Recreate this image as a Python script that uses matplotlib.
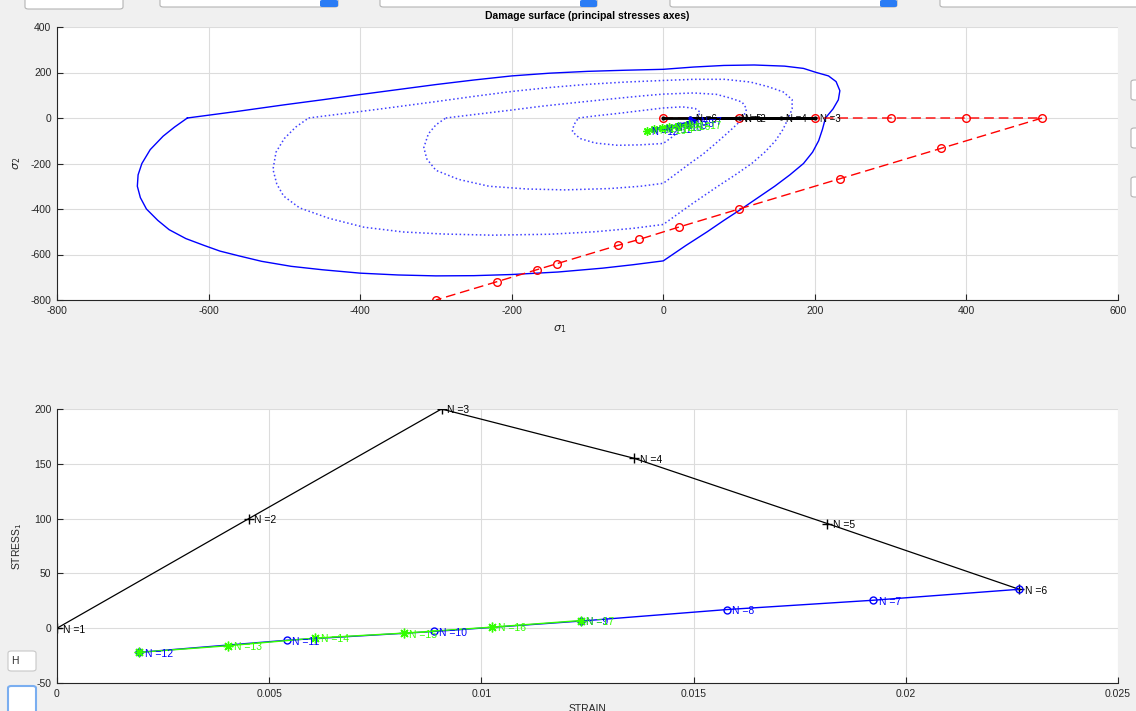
import matplotlib.pyplot as plt
from matplotlib.patches import FancyBboxPatch

plt.rcParams['font.family'] = ['Liberation Sans', 'DejaVu Sans']
plt.rcParams['axes.unicode_minus'] = False

# ---- surface d'endommagement (contraintes principales) ----
env_s1 = [-628, -560, -500, -450, -400, -350, -300, -250, -200, -150, -100, -50, 0,
          40, 80, 120, 160, 185, 201, 218, 228, 233, 231, 224, 214,
          210, 205, 197, 185, 167, 147, 125, 103, 80, 58, 30, 0,
          -40, -80, -139, -200, -250, -300, -350, -400, -450, -491, -530, -560, -585,
          -606, -630, -652, -667, -682, -690, -694, -693, -688, -677, -660, -645, -628]
env_s2 = [0, 30, 58, 80, 103, 125, 147, 167, 185, 197, 205, 210, 214,
          224, 231, 233, 228, 218, 201, 185, 160, 120, 80, 40, 0,
          -50, -100, -150, -200, -250, -300, -350, -400, -450, -500, -560, -628,
          -645, -660, -677, -688, -693, -694, -690, -682, -667, -652, -630, -606, -585,
          -560, -530, -491, -450, -400, -350, -300, -250, -200, -139, -80, -40, 0]

# contours en pointillés
d1_s1 = [-468, -420, -375, -300, -250, -199, -150, -100, -50, 0,
         40, 81, 115, 138, 158, 170, 170, 165,
         158, 148, 134, 117, 95, 72, 39, 20, 0,
         -40, -90, -150, -226, -290, -343, -395, -441, -480, -501, -510, -515, -511, -500, -485, -468]
d1_s2 = [0, 20, 39, 72, 95, 117, 134, 148, 158, 165,
         170, 170, 158, 138, 115, 81, 40, 0,
         -50, -100, -150, -199, -250, -300, -375, -420, -468,
         -485, -500, -511, -515, -510, -501, -480, -441, -395, -343, -290, -226, -150, -90, -40, 0]
d2_s1 = [-287, -245, -200, -160, -115, -80, -50, -25, 0, 40, 70, 88, 104, 110, 105,
         98, 90, 80, 68, 52, 35, 17, 0,
         -30, -70, -130, -180, -230, -270, -300, -312, -316, -310, -300, -287]
d2_s2 = [0, 17, 35, 52, 68, 80, 90, 98, 105, 110, 104, 88, 70, 40, 0,
         -25, -50, -80, -115, -160, -200, -245, -287,
         -300, -310, -316, -312, -300, -270, -230, -180, -130, -70, -30, 0]
d3_s1 = [-112, -85, -60, -30, 0, 25, 42, 49, 44, 32, 20, 11, 0,
         -30, -60, -90, -110, -120, -118, -112]
d3_s2 = [0, 11, 20, 32, 44, 49, 42, 25, 0, -30, -60, -85, -112,
         -118, -120, -110, -90, -60, -30, 0]

# chemin de chargement (rouge)
red_s1 = [0, 100, 200, 300, 400, 500, 367, 233, 100, 21, -32, -60, -140, -167, -220, -300]
red_s2 = [0, 0, 0, 0, 0, 0, -133, -267, -400, -479, -534, -560, -640, -667, -720, -800]

# points N dans le plan des contraintes principales
n_k = [1, 2, 3, 4, 5, 6]
sk_1 = [0, 100, 200, 155, 95.5, 35.5]
sk_2 = [0, 0, 0, 0, 0, 0]
n_b = [6, 7, 8, 9, 10, 11, 12]
sb_1 = [35.5, 42, 32, 22, 10, -4, -22]
sb_2 = [0, -12, -20, -28, -37, -45, -55]
n_g = [12, 13, 14, 15, 16, 17]
sg_1 = [-22, -12, -2, 8, 20, 34]
sg_2 = [-55, -50, -45, -40, -33, -27]

# ---- courbe contrainte / deformation ----
strain_k = [0, 0.00452, 0.00906, 0.0136, 0.01815, 0.02267]
stress_k = [0, 100, 200, 155, 95.5, 35.5]
strain_b = [0.02267, 0.01923, 0.01578, 0.01234, 0.00888, 0.00541, 0.00194]
stress_b = [35.5, 25.5, 17, 6.5, -3, -11, -22]
strain_g = [0.00194, 0.00403, 0.00609, 0.00817, 0.01026, 0.01234]
stress_g = [-22, -16, -9, -4.5, 1, 7]

xt1 = [-800, -600, -400, -200, 0, 200, 400, 600]
yt1 = [-800, -600, -400, -200, 0, 200, 400]
xt2 = [0, 0.005, 0.01, 0.015, 0.02, 0.025]
xt2_lab = ['0', '0.005', '0.01', '0.015', '0.02', '0.025']
yt2 = [-50, 0, 50, 100, 150, 200]

W, H = 1136, 711
GREEN = (0.2, 1, 0)
AST = (8, 2, 0)  # asterisque facon MATLAB
fig = plt.figure(figsize=(W / 100, H / 100), dpi=100, facecolor='#f0f0f0')


def box(l, t, r, b):
    return [l / W, 1 - b / H, (r - l) / W, (b - t) / H]


def style(ax):
    for s in ['top', 'right']:
        ax.spines[s].set_visible(False)
    for s in ['left', 'bottom']:
        ax.spines[s].set_color('#262626')
        ax.spines[s].set_linewidth(0.8)
    ax.tick_params(direction='in', length=4, width=0.8, colors='#262626',
                   labelsize=7.5, pad=4)
    ax.grid(True, color='#dcdcdc', lw=0.8)
    ax.set_axisbelow(True)


def labels(ax, lst, xs, ys, c, fs):
    for n, x, y in zip(lst, xs, ys):
        ax.annotate('N =%d' % n, (x, y), xytext=(4, -1), textcoords='offset points',
                    fontsize=fs, color=c, va='center')


ax1 = fig.add_axes(box(57, 27, 1118, 300))
style(ax1)
ax1.plot(env_s1, env_s2, color='blue', lw=1)
for xs, ys in [(d1_s1, d1_s2), (d2_s1, d2_s2), (d3_s1, d3_s2)]:
    ax1.plot(xs, ys, color=(0.25, 0.25, 1), ls=':', lw=1.1)
ax1.plot(red_s1, red_s2, color='red', ls='--', dashes=(7, 3.5), lw=1,
         marker='o', mfc='none', ms=5.5)
ax1.plot(sk_1, sk_2, color='black', lw=2, marker='.', ms=4)
ax1.plot(sb_1, sb_2, color='blue', lw=1.5, marker='.', ms=4)
ax1.plot(sg_1, sg_2, color=GREEN, lw=1.5, marker=AST, ms=6)
labels(ax1, n_k[1:], sk_1[1:], sk_2[1:], 'black', 7)
labels(ax1, n_b[1:], sb_1[1:], sb_2[1:], 'blue', 7)
labels(ax1, n_g[1:], sg_1[1:], sg_2[1:], GREEN, 7)
ax1.set_xlim(-800, 600)
ax1.set_ylim(-800, 400)
ax1.set_xticks(xt1)
ax1.set_yticks(yt1)
ax1.set_xlabel(r'$\sigma_1$', fontsize=8, color='#262626')
ax1.xaxis.set_label_coords(0.474, -0.085)
ax1.set_ylabel(r'$\sigma_2$', fontsize=8, color='#262626')
ax1.yaxis.set_label_coords(-0.032, 0.5)

ax2 = fig.add_axes(box(57, 409, 1118, 683))
style(ax2)
ax2.plot(strain_k, stress_k, color='black', lw=0.9, marker='+', ms=7)
ax2.plot(strain_b, stress_b, color='blue', lw=1, marker='o', mfc='none', ms=5)
ax2.plot(strain_g, stress_g, color=GREEN, lw=1, marker=AST, ms=7)
labels(ax2, n_k, strain_k, stress_k, 'black', 7.5)
labels(ax2, n_b[1:], strain_b[1:], stress_b[1:], 'blue', 7.5)
labels(ax2, n_g[1:], strain_g[1:], stress_g[1:], GREEN, 7.5)
ax2.set_xlim(0, 0.025)
ax2.set_ylim(-50, 200)
ax2.set_xticks(xt2)
ax2.set_xticklabels(xt2_lab)
ax2.set_yticks(yt2)
ax2.set_xlabel('STRAIN', fontsize=7.5, color='#262626')
ax2.xaxis.set_label_coords(0.5, -0.076)
ax2.set_ylabel('STRESS$_1$', fontsize=7.5, color='#262626')
ax2.yaxis.set_label_coords(-0.031, 0.5)

fig.text(587 / W, 1 - 16 / H, 'Damage surface (principal stresses axes)',
         ha='center', va='center', fontsize=7.5, weight='bold')

# elements d'interface (boutons)
for l, t, r, b, ec in [(25, -10, 123, 9, '#b4b4b4'), (160, -10, 338, 7, '#b4b4b4'),
                       (380, -10, 597, 7, '#b4b4b4'), (670, -10, 897, 7, '#b4b4b4'),
                       (940, -10, 1150, 7, '#b4b4b4'), (1131, 80, 1150, 100, '#b4b4b4'),
                       (1131, 128, 1150, 148, '#b4b4b4'), (1131, 177, 1150, 197, '#b4b4b4'),
                       (8, 651, 36, 671, '#c8c8c8'), (8, 686, 36, 730, '#7aaef0')]:
    x, y, w, h = box(l, t, r, b)
    fig.add_artist(FancyBboxPatch((x, y), w, h, boxstyle='round,pad=0,rounding_size=0.003',
                                  transform=fig.transFigure, fc='white', ec=ec,
                                  lw=1.5 if ec == '#7aaef0' else 0.8, zorder=10))
for l, r in [(320, 338), (580, 597), (880, 897)]:
    x, y, w, h = box(l, 0, r, 7)
    fig.add_artist(FancyBboxPatch((x, y), w, h, boxstyle='round,pad=0,rounding_size=0.002',
                                  transform=fig.transFigure, fc='#2a7cf5', ec='none', zorder=11))
fig.text(11 / W, 1 - 661 / H, 'H', fontsize=7.5, va='center', color='#303030', zorder=12)

fig.savefig('out.png', dpi=100, facecolor=fig.get_facecolor())
